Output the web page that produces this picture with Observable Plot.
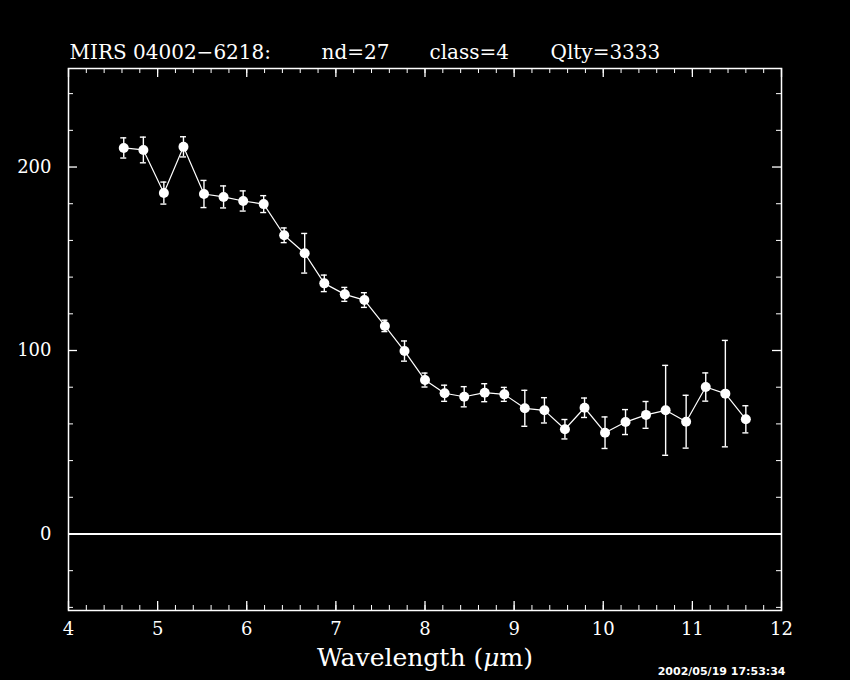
<!DOCTYPE html>
<html>
<head>
<meta charset="utf-8">
<script src="https://cdn.jsdelivr.net/npm/d3@7"></script>
<script src="https://cdn.jsdelivr.net/npm/@observablehq/plot@0.6"></script>
<style>
  html, body { margin: 0; padding: 0; background: #000; }
</style>
</head>
<body>
<div id="chart"></div>
<script>
// ---- data ----
const wavelength = [4.62, 4.84, 5.07, 5.29, 5.52, 5.74, 5.96, 6.19, 6.42, 6.65, 6.87, 7.10, 7.32, 7.55, 7.77, 8.00,
                    8.22, 8.44, 8.67, 8.89, 9.12, 9.34, 9.57, 9.79, 10.02, 10.25, 10.48, 10.70, 10.93, 11.15, 11.37, 11.60];
const flux = [210.4, 209.3, 185.8, 211.0, 185.3, 183.7, 181.5, 179.8, 162.8, 153.0, 136.6, 130.6, 127.5, 113.4, 99.7, 83.9,
              76.7, 74.8, 77.0, 76.1, 68.5, 67.4, 57.1, 68.8, 55.2, 61.0, 64.9, 67.4, 61.2, 80.1, 76.5, 62.5];
const fluxErr = [5.5, 7.0, 6.0, 5.5, 7.4, 6.0, 5.5, 4.6, 4.0, 10.8, 4.5, 3.8, 4.0, 3.1, 5.5, 3.8,
                 4.4, 5.5, 4.9, 3.8, 9.8, 6.9, 5.3, 5.3, 8.6, 6.8, 7.3, 24.5, 14.4, 7.7, 29.0, 7.4];

const xMajorTicks = [4, 5, 6, 7, 8, 9, 10, 11, 12];
const xMinorTicks = d3.range(0, 41).map(i => 4 + i * 0.2);
const yMajorTicks = [0, 100, 200];
const yMinorTicks = [-40, -20, 20, 40, 60, 80, 120, 140, 160, 180, 220, 240];
const xDomain = [4, 12];
const yDomain = [-41.7, 253.7];

const titleParts = ["MIRS 04002\u22126218:", "nd=27", "class=4", "Qlty=3333"];
const xLabel = "Wavelength (\u03bcm)";
const timestamp = "2002/05/19 17:53:34";

const data = wavelength.map((w, i) => ({w, f: flux[i], e: fluxErr[i]}));

// ---- layout ----
const W = 850, H = 680;
const mL = 68, mR = 69, mT = 68, mB = 70;
const plotW = W - mL - mR, plotH = H - mT - mB;
const minorLen = 5, majorLen = 9;
const serif = "'DejaVu Serif', serif";

const chart = Plot.plot({
  width: W,
  height: H,
  marginLeft: mL,
  marginRight: mR,
  marginTop: mT,
  marginBottom: mB,
  style: {background: "black", color: "white"},
  x: {domain: xDomain},
  y: {domain: yDomain},
  marks: [
    // inward ticks on all four sides
    Plot.ruleX(xMinorTicks, {stroke: "white", insetTop: plotH - minorLen}),
    Plot.ruleX(xMinorTicks, {stroke: "white", insetBottom: plotH - minorLen}),
    Plot.ruleX(xMajorTicks, {stroke: "white", strokeWidth: 1.3, insetTop: plotH - majorLen}),
    Plot.ruleX(xMajorTicks, {stroke: "white", strokeWidth: 1.3, insetBottom: plotH - majorLen}),
    Plot.ruleY(yMinorTicks, {stroke: "white", insetRight: plotW - minorLen}),
    Plot.ruleY(yMinorTicks, {stroke: "white", insetLeft: plotW - minorLen}),
    Plot.ruleY(yMajorTicks, {stroke: "white", strokeWidth: 1.3, insetRight: plotW - majorLen}),
    Plot.ruleY(yMajorTicks, {stroke: "white", strokeWidth: 1.3, insetLeft: plotW - majorLen}),
    Plot.frame({stroke: "white", strokeWidth: 1.5}),
    Plot.axisX({ticks: xMajorTicks, tickSize: 0, tickPadding: 12, tickFormat: d => String(d),
                fontSize: 18, fontFamily: serif, label: null}),
    Plot.axisY({ticks: yMajorTicks, tickSize: 0, tickPadding: 17, tickFormat: d => String(d),
                fontSize: 18, fontFamily: serif, label: null}),
    // zero line
    Plot.ruleY([0], {stroke: "white", strokeWidth: 2}),
    // error bars with caps
    Plot.ruleX(data, {x: "w", y1: d => d.f - d.e, y2: d => d.f + d.e, stroke: "white", strokeWidth: 1.4}),
    Plot.ruleY(data, {y: d => d.f + d.e, x1: "w", x2: "w", insetLeft: -3, insetRight: -3, stroke: "white", strokeWidth: 1.4}),
    Plot.ruleY(data, {y: d => d.f - d.e, x1: "w", x2: "w", insetLeft: -3, insetRight: -3, stroke: "white", strokeWidth: 1.4}),
    // connecting line and points
    Plot.line(data, {x: "w", y: "f", stroke: "white", strokeWidth: 1.2}),
    Plot.dot(data, {x: "w", y: "f", r: 5, fill: "white", stroke: "none"}),
    // title segments
    Plot.text([titleParts[0]], {frameAnchor: "top-left", textAnchor: "start", lineAnchor: "bottom", dy: -10, dx: 1,
                                fontSize: 20, fontFamily: serif, fill: "white"}),
    Plot.text([titleParts[1]], {frameAnchor: "top-left", textAnchor: "start", lineAnchor: "bottom", dy: -10, dx: 253,
                                fontSize: 20, fontFamily: serif, fill: "white"}),
    Plot.text([titleParts[2]], {frameAnchor: "top-left", textAnchor: "start", lineAnchor: "bottom", dy: -10, dx: 361,
                                fontSize: 20, fontFamily: serif, fill: "white"}),
    Plot.text([titleParts[3]], {frameAnchor: "top-left", textAnchor: "start", lineAnchor: "bottom", dy: -10, dx: 482,
                                fontSize: 20, fontFamily: serif, fill: "white"}),
    // x label
    Plot.text([xLabel], {frameAnchor: "bottom", dy: 55, fontSize: 25, fontFamily: serif, fill: "white"}),
    // timestamp
    Plot.text([timestamp], {frameAnchor: "bottom-right", textAnchor: "end", lineAnchor: "top", dx: 4, dy: 57,
                            fontSize: 11, fontWeight: "bold", fontFamily: "'DejaVu Sans', sans-serif", fill: "white"})
  ]
});

// italicise the mu in the axis label
d3.select(chart).selectAll("text").filter(function() { return this.textContent === xLabel; })
  .each(function() {
    const t = d3.select(this);
    t.text(null);
    t.append("tspan").text("Wavelength (");
    t.append("tspan").attr("font-style", "italic").text("\u03bc");
    t.append("tspan").text("m)");
  });

document.getElementById("chart").appendChild(chart);
</script>
</body>
</html>
